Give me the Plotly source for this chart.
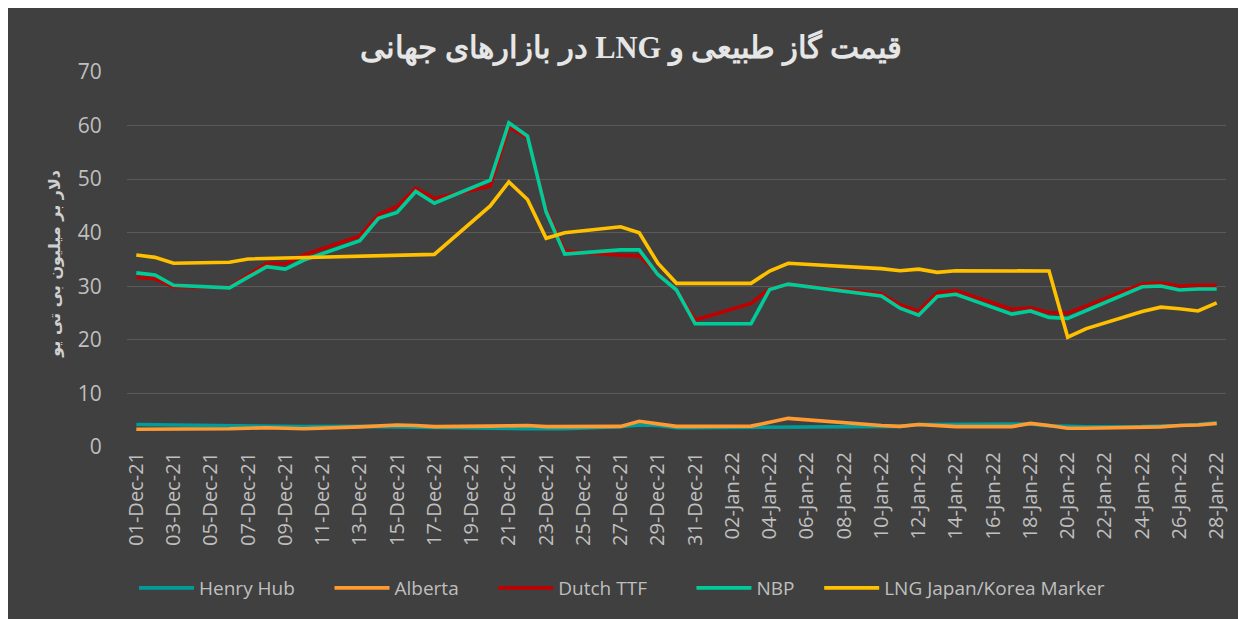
import plotly.graph_objects as go

# ---- data ----
dates = ([f"{d:02d}-Dec-21" for d in range(1, 32)] +
         [f"{d:02d}-Jan-22" for d in range(1, 29)])
tick_labels = dates[::2]

N = None
# values per calendar day (None = no quote that day)
henry_hub = [4.2, 4.15, 4.1, N, N, 3.85, 3.85, 3.8, 3.8, 3.8, N, N, 3.85, 3.8, 3.75, 3.55, 3.55, N, N,
             3.5, 3.45, 3.4, 3.4, 3.4, N, N, 3.8, 4.1, 4.0, 3.6, 3.6,
             N, N, 3.65, 3.7, 3.7, N, N, N, N, 3.8, 3.85, 4.2, 4.2, 4.3, N, N, 4.3, 4.3, 3.95, 3.8, 3.75,
             N, N, 3.8, 3.85, 4.0, 4.2, 4.5]
alberta = [3.3, 3.3, 3.4, N, N, 3.4, 3.5, 3.6, 3.5, 3.4, N, N, 3.75, 3.9, 4.1, 4.0, 3.8, N, N,
           3.9, 4.0, 4.0, 3.8, 3.8, N, N, 3.85, 4.8, 4.3, 3.85, 3.85,
           N, N, 3.9, 4.6, 5.35, N, N, N, N, 4.0, 3.85, 4.2, 4.0, 3.8, N, N, 3.8, 4.4, 4.0, 3.5, 3.5,
           N, N, 3.6, 3.75, 4.0, 4.1, 4.4]
dutch_ttf = [31.7, 31.4, 29.9, N, N, 29.8, 32.1, 34.3, 34.2, 35.85, N, N, 39.4, 43.4, 44.9, 48.3, 46.4, N, N,
             48.7, 59.7, 57.8, 44.3, 36.6, N, N, 35.8, 35.65, 32.4, 29.3, 23.7,
             N, N, 26.8, 29.5, 30.4, N, N, N, N, 28.6, 26.5, 25.4, 28.8, 29.2, N, N, 25.7, 26.0, 25.1, 25.0, N,
             N, N, 30.4, 30.6, 30.05, 30.2, 30.2]
nbp = [32.5, 32.1, 30.2, N, N, 29.7, 31.7, 33.65, 33.2, 34.9, N, N, 38.5, 42.7, 43.8, 47.7, 45.5, N, N,
       49.8, 60.5, 58.05, 43.9, 36.0, N, N, 36.8, 36.8, 32.2, 29.3, 23.0,
       N, N, 23.0, 29.4, 30.4, N, N, N, N, 28.2, 25.9, 24.6, 28.1, 28.5, N, N, 24.8, 25.4, 24.2, 24.0, N,
       N, N, 29.9, 30.05, 29.3, 29.5, 29.5]
lng_jkm = [35.85, 35.4, 34.3, N, N, 34.5, 35.1, 35.2, 35.2, 35.3, N, N, 35.7, 35.8, 35.9, 35.9, 35.95, N, N,
           45.0, 49.5, 46.2, 38.95, 40.0, N, N, 41.1, 40.0, 34.3, 30.55, 30.55,
           N, N, 30.55, 32.85, 34.3, N, N, N, N, 33.3, 32.9, 33.2, 32.6, 32.9, N, N, 32.85, 32.85, 32.85, 20.5, 22.1,
           N, N, 25.3, 26.1, 25.8, 25.4, 26.9]

series_names = ["Henry Hub", "Alberta", "Dutch TTF", "NBP", "LNG Japan/Korea Marker"]
series_values = [henry_hub, alberta, dutch_ttf, nbp, lng_jkm]
series_colors = ["#009B9B", "#FF9A33", "#C00000", "#00CC99", "#FFC000"]
legend_pad = [6, 6, 8, 4, 0]   # trailing spacing per legend entry

title_text = "قیمت گاز طبیعی و LNG در بازارهای جهانی"
y_title = "دلار بر میلیون بی تی یو"

BG = "#404040"
TXT = "#BFBFBF"
RLE, PDF = "\u202B", "\u202C"

fig = go.Figure()
for name, vals, col, pad in zip(series_names, series_values, series_colors, legend_pad):
    fig.add_trace(go.Scatter(x=dates, y=vals, name=name + "\u00a0" * pad, mode="lines",
                             connectgaps=True,
                             line=dict(color=col, width=3.6)))

fig.update_layout(
    width=1246, height=619,
    paper_bgcolor=BG, plot_bgcolor=BG,
    margin=dict(l=119, r=28, t=64, b=180, autoexpand=False),
    font=dict(family="Open Sans, DejaVu Sans, sans-serif", color=TXT),
    title=dict(text="<b>" + RLE + title_text + PDF + "</b>", x=0.5, xanchor="center",
               y=0.937, yanchor="middle",
               font=dict(family="Liberation Serif, DejaVu Serif, serif", size=30.5, color="#E6E6E6")),
    showlegend=True,
    legend=dict(orientation="h", x=0.0064, xanchor="left", y=-0.376, yanchor="middle",
                font=dict(size=19, color=TXT), bgcolor="rgba(0,0,0,0)",
                itemwidth=55, tracegroupgap=0),
    xaxis=dict(type="category", categoryorder="array", categoryarray=dates,
               range=[-0.5, len(dates) - 0.5],
               tickmode="array", tickvals=tick_labels, ticktext=tick_labels,
               tickangle=-90, tickfont=dict(size=20, color=TXT),
               showgrid=False, zeroline=False, showline=False, ticks=""),
    yaxis=dict(range=[0, 70], dtick=10, tickfont=dict(size=21, color=TXT),
               showgrid=True, gridcolor="#5A5A5A", gridwidth=1.3,
               zeroline=False, showline=False,
               ticks="outside", ticklen=20, tickcolor=BG),
    annotations=[dict(text="<b>" + RLE + y_title + PDF + "</b>", textangle=-90,
                      xref="paper", yref="paper", x=-0.066, y=0.49,
                      xanchor="center", yanchor="middle", showarrow=False,
                      font=dict(family="DejaVu Sans, sans-serif", size=16, color="#D0D0D0"))],
)

fig.write_html("out.html")
